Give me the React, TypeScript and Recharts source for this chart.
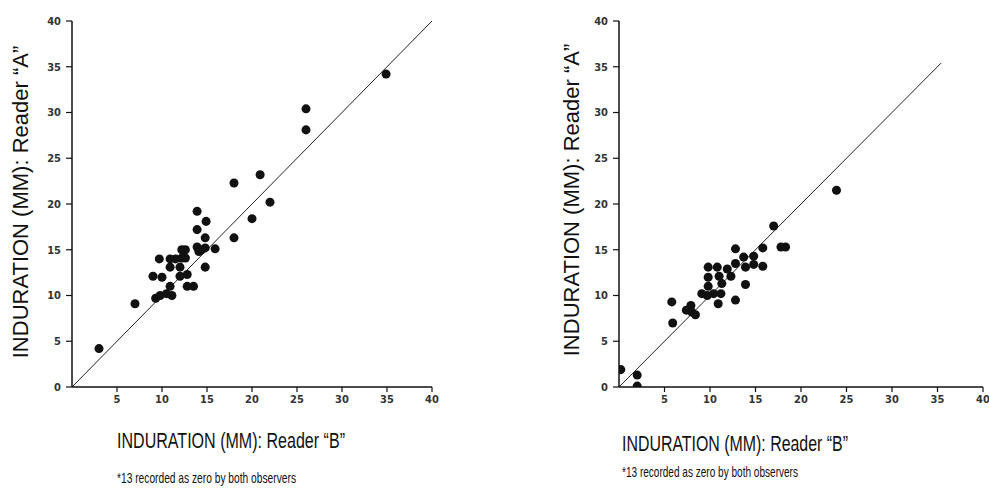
import React from 'react';
import { ScatterChart, Scatter, XAxis, YAxis, ZAxis, ReferenceLine } from 'recharts';

// ---- data ----
const yTicks = [0, 5, 10, 15, 20, 25, 30, 35, 40];
const xTicks = [5, 10, 15, 20, 25, 30, 35, 40];

const leftReaderB = [3, 7, 9.7, 9, 10, 9.3, 9.8, 10.5, 11.1, 10.9, 10.9, 11.5, 10.9, 12, 12.2, 12.6, 12.2, 12.6, 12, 12.8, 12.8, 13.5, 13.9, 13.9, 14.9, 13.9, 14.1, 14.4, 14.8, 14.8, 14.8, 15.9, 18, 18, 20, 20.9, 22, 26, 26, 34.9];
const leftReaderA = [4.2, 9.1, 14, 12.1, 12, 9.7, 10, 10.2, 10, 11, 14, 14, 13.1, 13.1, 15, 15, 14.1, 14.1, 12.1, 12.3, 11, 11, 19.2, 17.2, 18.1, 15.3, 14.8, 15, 15.2, 16.3, 13.1, 15.1, 22.3, 16.3, 18.4, 23.2, 20.2, 30.4, 28.1, 34.2];

const rightReaderB = [0.2, 2.0, 2.0, 5.8, 5.9, 7.4, 7.9, 8.0, 8.4, 9.1, 9.7, 9.8, 9.8, 9.8, 10.4, 10.8, 10.9, 11.0, 11.2, 11.3, 11.9, 12.3, 12.8, 12.8, 12.8, 13.7, 13.9, 13.9, 14.8, 14.8, 15.8, 15.8, 17.0, 17.8, 18.3, 23.9];
const rightReaderA = [1.9, 1.3, 0.1, 9.3, 7.0, 8.4, 8.9, 8.2, 7.9, 10.2, 10.0, 13.1, 12.0, 11.0, 10.2, 13.1, 9.1, 12.1, 10.2, 11.3, 12.9, 12.1, 15.1, 13.5, 9.5, 14.2, 13.1, 11.2, 14.3, 13.4, 15.2, 13.2, 17.6, 15.3, 15.3, 21.5];

const leftFitLine = [{ x: 0, y: 0 }, { x: 40, y: 40 }];
const rightFitLine = [{ x: 0, y: 0 }, { x: 35.4, y: 35.4 }];

const xTitle = 'INDURATION (MM): Reader \u201CB\u201D';
const yTitle = 'INDURATION (MM): Reader \u201CA\u201D';
const footnote = '*13 recorded as zero by both observers';

const zip = (bs: number[], as: number[]) => bs.map((b, i) => ({ b, a: as[i] }));

const TITLE_FONT = "'Liberation Sans', Arial, sans-serif";
const TICK_FONT = "'Liberation Sans Narrow', 'DejaVu Sans Condensed', sans-serif";

const XTitle = (props: any) => (
  <g>
    <text
      x={props.tx}
      y={props.ty}
      fontFamily={TITLE_FONT}
      fontSize={22}
      fill="#111"
      textLength={props.tw}
      lengthAdjust="spacingAndGlyphs"
    >
      {xTitle}
    </text>
    <text
      x={props.tx}
      y={props.fy}
      fontFamily={TITLE_FONT}
      fontSize={15}
      fill="#111"
      textLength={props.fw}
      lengthAdjust="spacingAndGlyphs"
    >
      {footnote}
    </text>
  </g>
);

const YTitle = (props: any) => (
  <text
    x={props.tx}
    y={props.ty}
    transform={`rotate(-90, ${props.tx}, ${props.ty})`}
    textAnchor="middle"
    fontFamily={TITLE_FONT}
    fontSize={22}
    fill="#111"
  >
    {yTitle}
  </text>
);

const tickStyle = { fontSize: 11, fontWeight: 700, fill: '#333', fontFamily: TICK_FONT };

type PanelProps = {
  left: number;
  width: number;
  margin: { top: number; right: number; bottom: number; left: number };
  data: { b: number; a: number }[];
  fit: { x: number; y: number }[];
  xt: { tx: number; ty: number; fy: number; tw: number; fw: number };
  yt: { tx: number; ty: number };
};

const Panel = ({ left, width, margin, data, fit, xt, yt }: PanelProps) => (
  <div style={{ position: 'absolute', left, top: 0 }}>
    <ScatterChart width={width} height={488} margin={margin}>
      <XAxis
        type="number"
        dataKey="b"
        domain={[0, 40]}
        ticks={xTicks}
        height={30}
        interval={0}
        tick={tickStyle}
        tickSize={5}
        tickMargin={3}
        axisLine={{ stroke: '#111', strokeWidth: 1.5 }}
        tickLine={{ stroke: '#111', strokeWidth: 1.2 }}
        label={<XTitle tx={xt.tx} ty={xt.ty} fy={xt.fy} tw={xt.tw} fw={xt.fw} />}
        allowDataOverflow
      />
      <YAxis
        type="number"
        dataKey="a"
        domain={[0, 40]}
        ticks={yTicks}
        width={40}
        interval={0}
        tick={tickStyle}
        tickSize={6}
        tickMargin={5}
        axisLine={{ stroke: '#111', strokeWidth: 1.5 }}
        tickLine={{ stroke: '#111', strokeWidth: 1.2 }}
        label={<YTitle tx={yt.tx} ty={yt.ty} />}
        allowDataOverflow
      />
      <ZAxis range={[40, 40]} />
      <ReferenceLine segment={fit} stroke="#222" strokeWidth={1} ifOverflow="visible" />
      <Scatter data={data} fill="#111" shape="circle" isAnimationActive={false} />
    </ScatterChart>
  </div>
);

export default function App() {
  return (
    <div style={{ position: 'absolute', left: 0, top: 0, width: 989, height: 488, background: '#fff', overflow: 'hidden' }}>
      <Panel
        left={0}
        width={460}
        margin={{ top: 21, right: 28, bottom: 71, left: 32 }}
        data={zip(leftReaderB, leftReaderA)}
        fit={leftFitLine}
        xt={{ tx: 117, ty: 448, fy: 483, tw: 228, fw: 179 }}
        yt={{ tx: 28, ty: 202 }}
      />
      <Panel
        left={540}
        width={449}
        margin={{ top: 21, right: 6, bottom: 71, left: 39 }}
        data={zip(rightReaderB, rightReaderA)}
        fit={rightFitLine}
        xt={{ tx: 82, ty: 451, fy: 477, tw: 226, fw: 176 }}
        yt={{ tx: 39, ty: 200 }}
      />
    </div>
  );
}
